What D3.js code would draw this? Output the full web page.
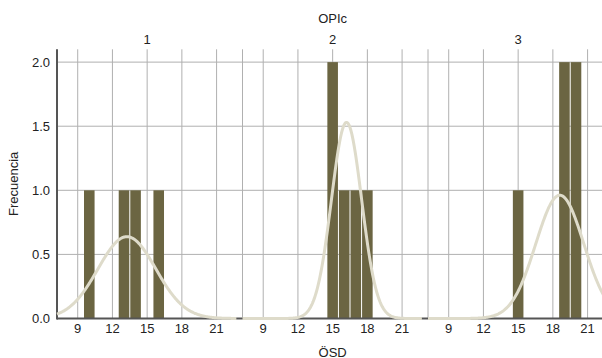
<!DOCTYPE html>
<html>
<head>
<meta charset="utf-8">
<script src="https://cdn.jsdelivr.net/npm/d3@7"></script>
<style>
  html, body { margin: 0; padding: 0; background: #fff; overflow: hidden; }
  svg { display: block; font-family: "Liberation Sans", Arial, Helvetica, sans-serif; }
</style>
</head>
<body>
<svg id="chart" width="602" height="358"></svg>
<script>
// ---- data ----
const facetLabels = ["1", "2", "3"];            // OPIc groups
const osdGroup1 = [10, 13, 14, 16];             // ÖSD observations, OPIc = 1
const osdGroup2 = [15, 15, 16, 17, 18];         // OPIc = 2
const osdGroup3 = [15, 19, 19, 20, 20];         // OPIc = 3
const xTicks = [9, 12, 15, 18, 21];
const yTicks = [0, 0.5, 1.0, 1.5, 2.0];
const xDomain = [7.21, 23.24];
const yDomain = [0, 2.1];
const binWidth = 1;

const groups = [osdGroup1, osdGroup2, osdGroup3];

// ---- layout ----
(function () {
const svg = d3.select("#chart");
const mLeft = 57, mTop = 49.3, mBottom = 318.5;
const facetW = 185.5;
const barColor = "#6b6542";
const curveColor = "#dedbca";
const gridColor = "#b0b0b0";
const axisColor = "#555";
const textColor = "#222";

const x = d3.scaleLinear().domain(xDomain).range([0, facetW]);
const y = d3.scaleLinear().domain(yDomain).range([mBottom, mTop]);

// horizontal grid
svg.append("g").selectAll("line").data(yTicks.filter(d => d > 0)).join("line")
  .attr("x1", mLeft).attr("x2", mLeft + 3 * facetW)
  .attr("y1", d => y(d)).attr("y2", d => y(d))
  .attr("stroke", gridColor).attr("stroke-width", 1);

// y tick labels
svg.append("g").selectAll("text").data(yTicks).join("text")
  .attr("x", 50).attr("y", d => y(d)).attr("dy", "0.35em")
  .attr("text-anchor", "end").attr("font-size", 13).attr("fill", textColor)
  .text(d3.format(".1f"));

groups.forEach((vals, i) => {
  const g = svg.append("g").attr("transform", `translate(${mLeft + i * facetW},0)`);

  g.selectAll("line.grid").data(xTicks).join("line").attr("class", "grid")
    .attr("x1", d => x(d)).attr("x2", d => x(d))
    .attr("y1", mTop).attr("y2", mBottom)
    .attr("stroke", gridColor).attr("stroke-width", 1);
  g.append("line").attr("x1", facetW).attr("x2", facetW)
    .attr("y1", mTop).attr("y2", mBottom)
    .attr("stroke", gridColor).attr("stroke-width", 1);

  const counts = d3.rollups(vals, v => v.length, d => d);
  g.selectAll("rect").data(counts).join("rect")
    .attr("x", d => x(d[0] - binWidth / 2) + 0.5)
    .attr("width", d => x(d[0] + binWidth / 2) - x(d[0] - binWidth / 2) - 1)
    .attr("y", d => y(d[1]))
    .attr("height", d => y(0) - y(d[1]))
    .attr("fill", barColor);

  g.selectAll("text.tick").data(xTicks).join("text").attr("class", "tick")
    .attr("x", d => x(d)).attr("y", 333)
    .attr("text-anchor", "middle").attr("font-size", 13).attr("fill", textColor)
    .text(d => d);

  g.append("text").attr("x", x(15)).attr("y", 44)
    .attr("text-anchor", "middle").attr("font-size", 13).attr("fill", textColor)
    .text(facetLabels[i]);
});

svg.append("line").attr("x1", mLeft).attr("x2", 602).attr("y1", mBottom).attr("y2", mBottom)
  .attr("stroke", axisColor).attr("stroke-width", 2);
svg.append("line").attr("x1", mLeft).attr("x2", mLeft).attr("y1", mTop).attr("y2", mBottom + 1)
  .attr("stroke", axisColor).attr("stroke-width", 2);

groups.forEach((vals, i) => {
  const g = svg.append("g").attr("transform", `translate(${mLeft + i * facetW},0)`);
  const n = vals.length, m = d3.mean(vals), sd = d3.deviation(vals);
  const xs = d3.range(xDomain[0], xDomain[1] - 0.5, 0.05);
  const pts = xs.map(v => [v, n * binWidth * Math.exp(-0.5 * ((v - m) / sd) ** 2) / (sd * Math.sqrt(2 * Math.PI))]);
  g.append("path").datum(pts)
    .attr("d", d3.line().x(d => x(d[0])).y(d => Math.min(y(d[1]), mBottom)))
    .attr("fill", "none").attr("stroke", curveColor).attr("stroke-width", 3)
    .attr("stroke-linejoin", "round");
});

const midX = mLeft + facetW + x(15);
svg.append("text").attr("x", midX).attr("y", 22.7).attr("text-anchor", "middle")
  .attr("font-size", 13).attr("fill", textColor).text("OPIc");
svg.append("text").attr("x", midX).attr("y", 356.5).attr("text-anchor", "middle")
  .attr("font-size", 13).attr("fill", textColor).text("ÖSD");
svg.append("text").attr("transform", `translate(18,${(mTop + mBottom) / 2}) rotate(-90)`)
  .attr("text-anchor", "middle").attr("font-size", 13).attr("fill", textColor).text("Frecuencia");
})();
</script>
</body>
</html>
